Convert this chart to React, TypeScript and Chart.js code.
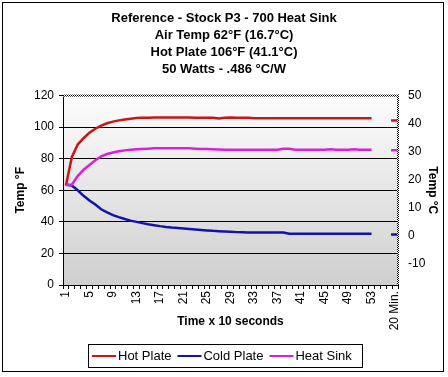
import React, { useEffect, useRef } from 'react';
import { Chart, registerables } from 'chart.js';

Chart.register(...registerables);

const FONT = '"Liberation Sans", Arial, sans-serif';

const titleLines = [
  'Reference - Stock P3 - 700 Heat Sink',
  'Air Temp 62°F (16.7°C)',
  'Hot Plate 106°F (41.1°C)',
  '50 Watts - .486 °C/W',
];

const categories = [
  '1', '2', '3', '4', '5', '6', '7', '8', '9', '10',
  '11', '12', '13', '14', '15', '16', '17', '18', '19', '20',
  '21', '22', '23', '24', '25', '26', '27', '28', '29', '30',
  '31', '32', '33', '34', '35', '36', '37', '38', '39', '40',
  '41', '42', '43', '44', '45', '46', '47', '48', '49', '50',
  '51', '52', '53', '54', '55', '56', '20 Min.',
];

// Temperatures in °F, one value per 10 s step (categories 1..53)
const hotPlate = [
  63, 81, 89, 93, 96.5, 99, 101, 102.5, 103.5, 104.3,
  104.9, 105.4, 105.8, 106, 106, 106.1, 106.1, 106.1, 106.1, 106.1,
  106.1, 106.1, 106, 106, 106, 106, 105.5, 106, 106.1, 106,
  106, 106, 105.7, 105.6, 105.6, 105.6, 105.6, 105.6, 105.6, 105.6,
  105.6, 105.6, 105.6, 105.6, 105.6, 105.6, 105.6, 105.6, 105.6, 105.6,
  105.6, 105.6, 105.6,
];

const coldPlate = [
  63.5, 63, 60, 56.5, 53.5, 51, 48, 46, 44.3, 43,
  41.8, 40.8, 40, 39.2, 38.5, 37.9, 37.3, 36.8, 36.4, 36.1,
  35.8, 35.5, 35.2, 34.9, 34.6, 34.3, 34.1, 33.9, 33.7, 33.5,
  33.4, 33.2, 33.2, 33.2, 33.2, 33.2, 33.2, 33.2, 32.5, 32.5,
  32.5, 32.5, 32.5, 32.5, 32.5, 32.5, 32.5, 32.5, 32.5, 32.5,
  32.5, 32.5, 32.5,
];

const heatSink = [
  63.5, 63.5, 69, 73, 76, 79, 81.5, 83, 84, 84.8,
  85.3, 85.7, 86, 86.2, 86.4, 86.6, 86.6, 86.6, 86.6, 86.6,
  86.6, 86.6, 86.4, 86.2, 86.1, 86, 85.9, 85.7, 85.7, 85.7,
  85.7, 85.7, 85.7, 85.7, 85.7, 85.7, 85.7, 86.3, 86.3, 85.7,
  85.7, 85.7, 85.7, 85.7, 85.7, 86, 85.7, 85.7, 85.7, 86,
  85.7, 85.7, 85.7,
];

// Final 20-minute readings in °C (right axis)
const finalLabel = '20 Min.';
const finalHotC = 41.1;
const finalColdC = 0.3;
const finalSinkC = 30.4;

const leftTicksF = [0, 20, 40, 60, 80, 100, 120];
const rightTicksC = [-10, 0, 10, 20, 30, 40, 50];

const seriesNames = ['Hot Plate', 'Cold Plate', 'Heat Sink'];
const seriesColors = ['#cc1414', '#1212b0', '#d822d8'];

function padSeries(vals: number[]) {
  const out: (number | null)[] = categories.map(() => null);
  vals.forEach((v, i) => (out[i] = v));
  return out;
}
function finalOnly(v: number) {
  return categories.map((c) => (c === finalLabel ? v : null));
}

let checkerPattern: CanvasPattern | null = null;
function getChecker(ctx: CanvasRenderingContext2D) {
  if (!checkerPattern) {
    const off = document.createElement('canvas');
    off.width = 2;
    off.height = 2;
    const c = off.getContext('2d')!;
    c.fillStyle = '#ffffff';
    c.fillRect(0, 0, 2, 2);
    c.fillStyle = '#000000';
    c.fillRect(0, 0, 1, 1);
    c.fillRect(1, 1, 1, 1);
    checkerPattern = ctx.createPattern(off, 'repeat');
  }
  return checkerPattern!;
}

const decorPlugin = {
  id: 'decor',
  beforeDraw(chart: any) {
    const { ctx, chartArea: a } = chart;
    ctx.save();
    ctx.fillStyle = '#ffffff';
    ctx.fillRect(0, 0, chart.width, chart.height);
    const g = ctx.createLinearGradient(0, a.top, 0, a.bottom);
    g.addColorStop(0, '#fdfdfd');
    g.addColorStop(1, '#cfcfcf');
    ctx.fillStyle = g;
    ctx.fillRect(a.left, a.top, a.right - a.left, a.bottom - a.top);
    ctx.restore();
  },
  afterDraw(chart: any) {
    const { ctx, chartArea: a } = chart;
    ctx.save();
    // checkered plot border (top & right)
    ctx.fillStyle = getChecker(ctx);
    ctx.fillRect(a.left, a.top - 1, a.right - a.left + 1, 2);
    ctx.fillRect(a.right - 1, a.top - 1, 2, a.bottom - a.top + 1);
    // outer frame
    ctx.strokeStyle = '#000';
    ctx.lineWidth = 1;
    ctx.strokeRect(2.5, 2.5, 441, 369);
    // legend
    const lx = 88.5, ly = 344.5, lw = 274, lh = 23;
    ctx.fillStyle = '#fff';
    ctx.fillRect(lx, ly, lw, lh);
    ctx.strokeRect(lx, ly, lw, lh);
    ctx.font = '13px ' + FONT;
    ctx.textBaseline = 'middle';
    ctx.textAlign = 'left';
    let x = 92;
    const cy = ly + lh / 2;
    seriesNames.forEach((name, i) => {
      ctx.strokeStyle = seriesColors[i];
      ctx.lineWidth = 2;
      ctx.beginPath();
      ctx.moveTo(x, cy);
      ctx.lineTo(x + 24, cy);
      ctx.stroke();
      ctx.fillStyle = '#000';
      ctx.fillText(name, x + 26, cy + 0.5);
      x += 26 + ctx.measureText(name).width + 6;
    });
    ctx.restore();
  },
};

export default function App() {
  const ref = useRef<HTMLCanvasElement>(null);
  useEffect(() => {
    const mainSets = [hotPlate, coldPlate, heatSink].map((vals, i) => ({
      label: seriesNames[i],
      data: padSeries(vals),
      borderColor: seriesColors[i],
      backgroundColor: seriesColors[i],
      borderWidth: 2.5,
      pointRadius: 0,
      tension: 0,
      yAxisID: 'y',
      order: 2 - i,
    }));
    const finals = [finalHotC, finalColdC, finalSinkC].map((v, i) => ({
      label: seriesNames[i] + ' final',
      data: finalOnly(v),
      borderColor: seriesColors[i],
      backgroundColor: seriesColors[i],
      showLine: false,
      pointStyle: 'line',
      pointRadius: 4,
      pointBorderWidth: 2.5,
      yAxisID: 'y1',
    }));
    const chart = new Chart(ref.current!, {
      type: 'line',
      data: { labels: categories, datasets: [...mainSets, ...finals] as any },
      options: {
        animation: false,
        responsive: false,
        devicePixelRatio: 1,
        layout: { padding: { left: 0, right: 0, top: 0, bottom: 45 } },
        plugins: {
          legend: { display: false },
          tooltip: { enabled: false },
          title: {
            display: true,
            text: titleLines,
            color: '#000',
            font: { family: FONT, size: 13, weight: 'bold', lineHeight: 1.3 },
            padding: { top: 10, bottom: 18 },
          },
        },
        scales: {
          x: {
            type: 'category',
            offset: true,
            afterFit: (s: any) => { s.height = 47; },
            grid: {
              offset: true,
              drawOnChartArea: false,
              drawTicks: true,
              tickLength: 4,
              color: '#000',
            },
            border: { display: true, color: '#000', width: 1 },
            ticks: {
              autoSkip: false,
              minRotation: 90,
              maxRotation: 90,
              padding: 2,
              color: '#000',
              font: { family: FONT, size: 12 },
              callback: (_v: any, i: number) => (i % 4 === 0 ? categories[i] : ''),
            },
            title: {
              display: true,
              text: 'Time x 10 seconds',
              color: '#000',
              font: { family: FONT, size: 12, weight: 'bold' },
              padding: { top: 0, bottom: 3 },
            },
          },
          y: {
            position: 'left',
            min: 0,
            max: 120,
            afterFit: (s: any) => { s.width = 63; },
            afterBuildTicks: (s: any) => { s.ticks = leftTicksF.map((v) => ({ value: v })); },
            grid: {
              color: (c: any) => (c.tick && c.tick.value === 120 ? 'rgba(0,0,0,0)' : '#000'),
              tickColor: '#000',
              tickLength: 4,
              lineWidth: 1,
            },
            border: { display: true, color: '#000', width: 1 },
            ticks: {
              padding: 5,
              color: '#000',
              font: { family: FONT, size: 12 },
            },
            title: {
              display: true,
              text: 'Temp °F',
              color: '#000',
              font: { family: FONT, size: 12, weight: 'bold' },
              padding: { top: 13, bottom: 0 },
            },
          },
          y1: {
            position: 'right',
            min: -17.78,
            max: 50,
            afterFit: (s: any) => { s.width = 50; },
            afterBuildTicks: (s: any) => { s.ticks = rightTicksC.map((v) => ({ value: v })); },
            grid: { drawOnChartArea: false, drawTicks: false },
            border: { display: false },
            ticks: {
              padding: 10,
              color: '#000',
              font: { family: FONT, size: 12 },
            },
            title: {
              display: true,
              text: 'Temp °C',
              color: '#000',
              font: { family: FONT, size: 12, weight: 'bold' },
              padding: { top: 8, bottom: 0 },
            },
          },
        },
      } as any,
      plugins: [decorPlugin],
    });
    return () => chart.destroy();
  }, []);
  return (
    <div style={{ position: 'fixed', left: 0, top: 0, width: 448, height: 377 }}>
      <canvas ref={ref} width={448} height={377} style={{ width: 448, height: 377, display: 'block' }} />
    </div>
  );
}
